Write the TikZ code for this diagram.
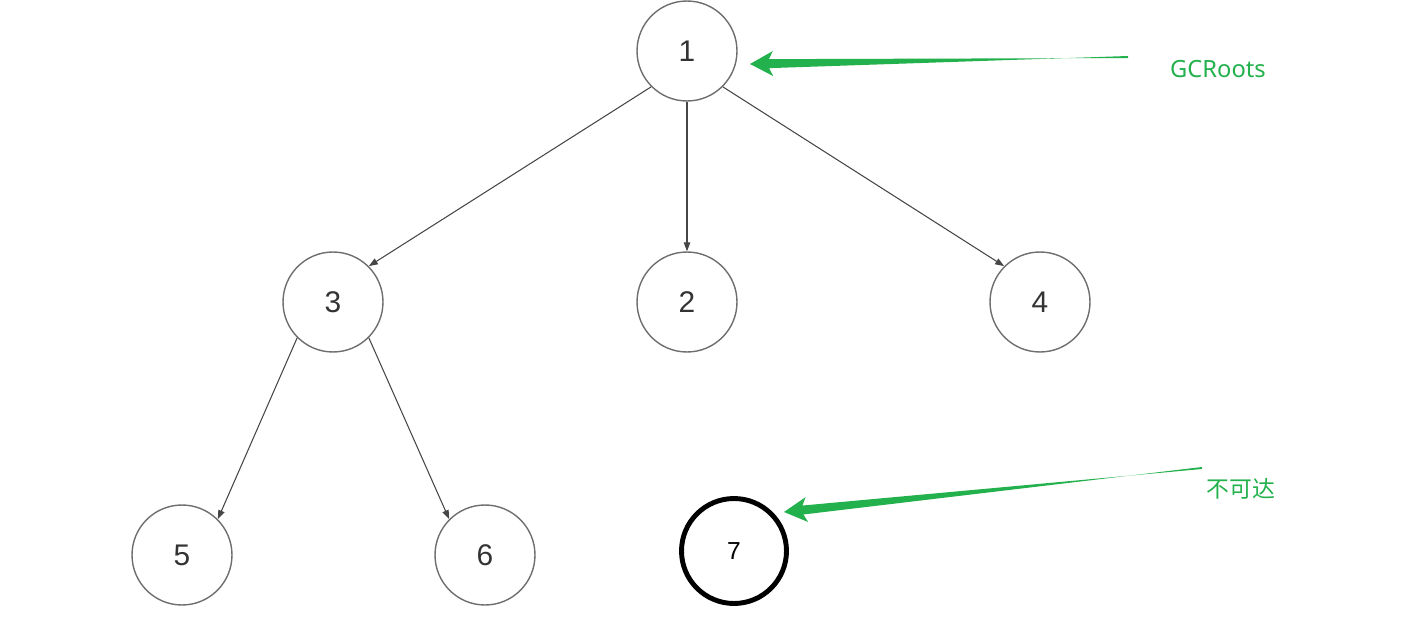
\documentclass[tikz,border=0pt]{standalone}
\usepackage{fontspec}
\setmainfont{Liberation Sans}
\newfontfamily\notesans{Noto Sans}
\newfontfamily\cjk{Noto Sans CJK SC}
\usetikzlibrary{arrows.meta,calc}
\definecolor{rootgreen}{RGB}{34,177,76}
\definecolor{edgegray}{RGB}{70,70,70}
\definecolor{ringgray}{RGB}{110,110,110}

\begin{document}
\begin{tikzpicture}[
    x=0.02cm, y=-0.02cm,
    obj/.style={draw=ringgray, circle, line width=0.8pt, minimum size=2cm, inner sep=0pt, text=black!80, font=\fontsize{17}{20}\selectfont},
    lost/.style={draw=black, circle, line width=2.8pt, minimum size=2.1cm, inner sep=0pt, font=\fontsize{14}{16}\selectfont},
    ref/.style={-{Triangle[length=1.8mm, width=1.3mm]}, draw=edgegray, line width=0.6pt},
    note/.style={text=rootgreen, font=\notesans\fontsize{13.5}{16}\selectfont}
]
\useasboundingbox (0,0) rectangle (1404,625);

\node[obj] (n1) at (687,51) {1};
\node[obj] (n3) at (333,302) {3};
\node[obj] (n2) at (687,302) {2};
\node[obj] (n4) at (1040,302) {4};
\node[obj] (n5) at (182,555) {5};
\node[obj] (n6) at (485,555) {6};
\node[lost] (n7) at (734,551) {7};

\draw[ref] (n1.south west) -- (n3.north east);
\draw[ref] (n1) -- (n2);
\draw[ref] (n1.south east) -- (n4.north west);
\draw[ref] (n3.south west) -- (n5.north east);
\draw[ref] (n3.south east) -- (n6.north west);

% labels
\node[note] (gclabel) at (1218,69) {GCRoots};
\node[note, font=\cjk\fontsize{13}{16}\selectfont] (lostlabel) at (1241,489) {不可达};

% tapered pointers
\coordinate (gctail) at (1128,57);
\coordinate (gctip) at (750,64);
\coordinate (gcbase) at ($(gctip)!0.38cm!(gctail)$);
\coordinate (gcwing) at ($(gctip)!0.46cm!(gctail)$);
\fill[rootgreen]
    ($(gctail)!0.02cm!90:(gctip)$) -- ($(gcbase)!0.09cm!-90:(gctip)$)
    -- ($(gcwing)!0.25cm!-90:(gctip)$) -- (gctip)
    -- ($(gcwing)!0.25cm!90:(gctip)$) -- ($(gcbase)!0.09cm!90:(gctip)$)
    -- ($(gctail)!0.02cm!-90:(gctip)$) -- cycle;

\coordinate (losttail) at (1202,468);
\coordinate (losttip) at (784,512);
\coordinate (lostbase) at ($(losttip)!0.38cm!(losttail)$);
\coordinate (lostwing) at ($(losttip)!0.46cm!(losttail)$);
\fill[rootgreen]
    ($(losttail)!0.02cm!90:(losttip)$) -- ($(lostbase)!0.09cm!-90:(losttip)$)
    -- ($(lostwing)!0.25cm!-90:(losttip)$) -- (losttip)
    -- ($(lostwing)!0.25cm!90:(losttip)$) -- ($(lostbase)!0.09cm!90:(losttip)$)
    -- ($(losttail)!0.02cm!-90:(losttip)$) -- cycle;
\end{tikzpicture}
\end{document}
